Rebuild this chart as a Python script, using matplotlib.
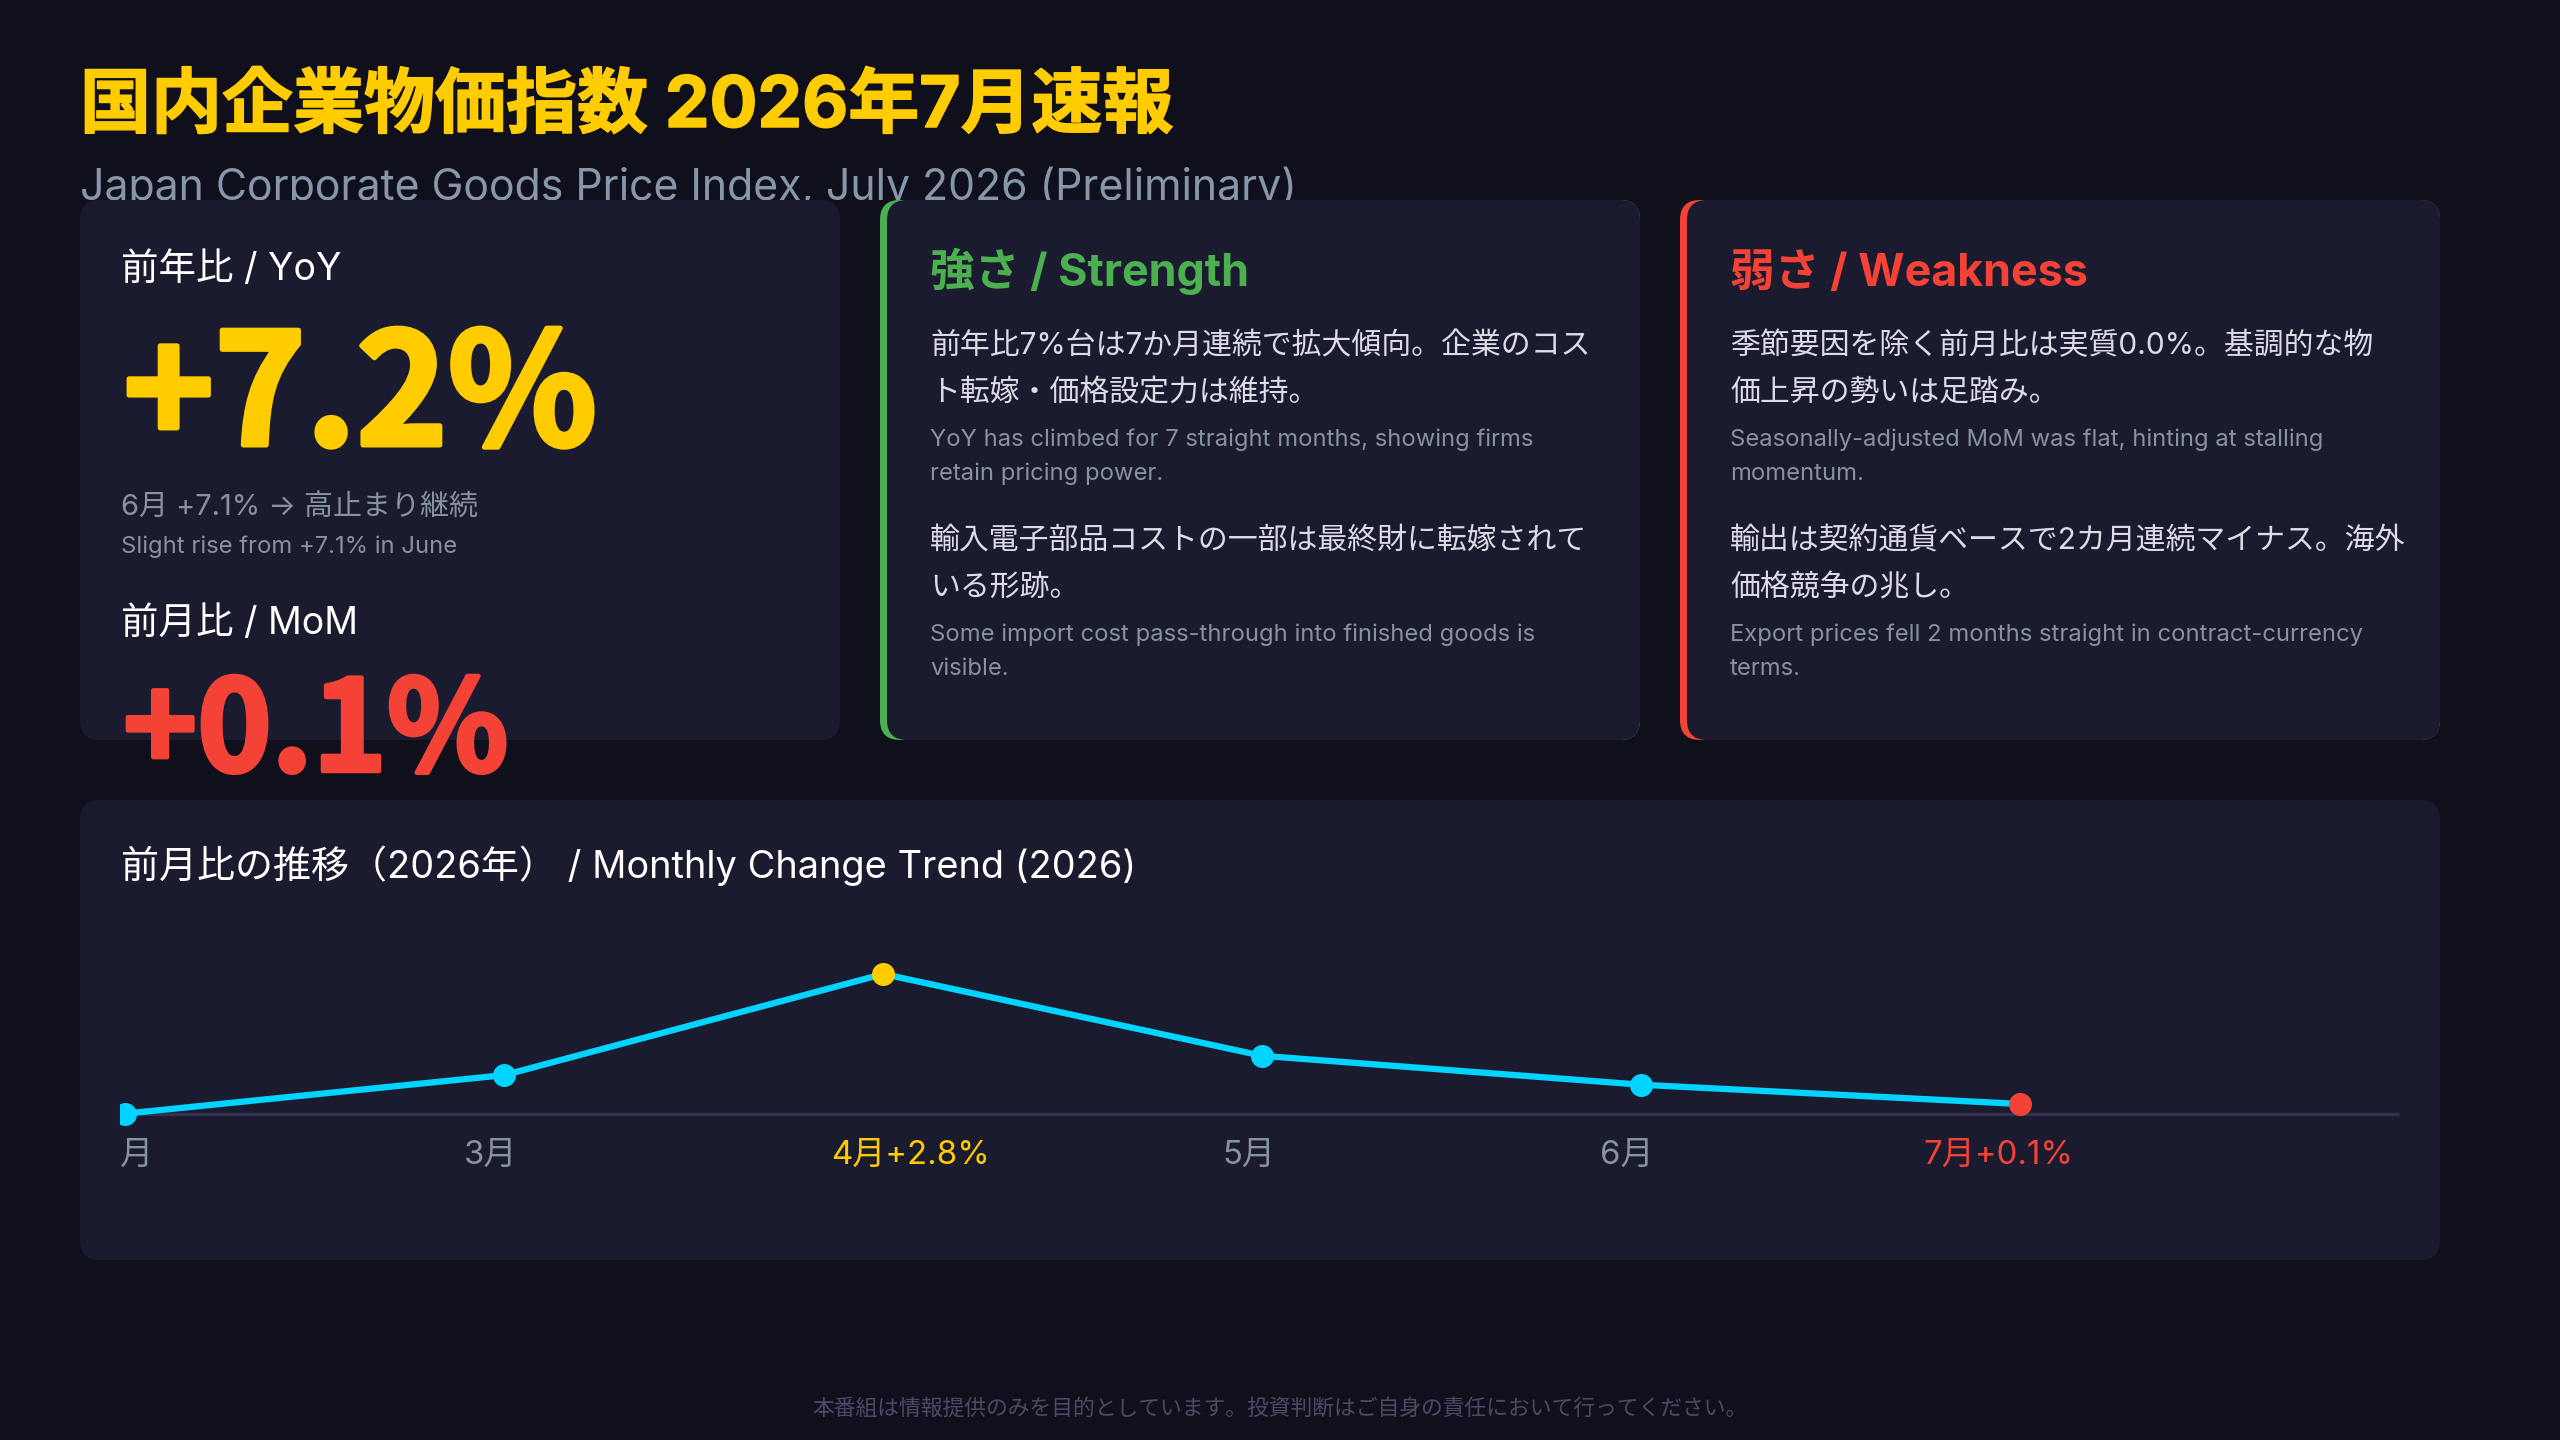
import matplotlib
matplotlib.use("Agg")
import matplotlib.pyplot as plt
from matplotlib.patches import FancyBboxPatch, Rectangle
from matplotlib.transforms import blended_transform_factory, offset_copy
import matplotlib.patheffects as pe

plt.rcParams['font.family'] = ['Inter', 'Noto Sans CJK JP', 'DejaVu Sans']
BIG_FONT = ['Noto Sans CJK JP', 'DejaVu Sans']

# ---------------- data ----------------
title_jp = "国内企業物価指数 2026年7月速報"
title_en = "Japan Corporate Goods Price Index, July 2026 (Preliminary)"

yoy_label = "前年比 / YoY"
yoy_value = 7.2
yoy_note_jp = "6月 +7.1% → 高止まり継続"
yoy_note_en = "Slight rise from +7.1% in June"
mom_label = "前月比 / MoM"
mom_value = 0.1

strength_title = "強さ / Strength"
strength_lines = [
    ("jp", ["前年比7%台は7か月連続で拡大傾向。企業のコス", "ト転嫁・価格設定力は維持。"]),
    ("en", ["YoY has climbed for 7 straight months, showing firms", "retain pricing power."]),
    ("jp", ["輸入電子部品コストの一部は最終財に転嫁されて", "いる形跡。"]),
    ("en", ["Some import cost pass-through into finished goods is", "visible."]),
]
weakness_title = "弱さ / Weakness"
weakness_lines = [
    ("jp", ["季節要因を除く前月比は実質0.0%。基調的な物", "価上昇の勢いは足踏み。"]),
    ("en", ["Seasonally-adjusted MoM was flat, hinting at stalling", "momentum."]),
    ("jp", ["輸出は契約通貨ベースで2カ月連続マイナス。海外", "価格競争の兆し。"]),
    ("en", ["Export prices fell 2 months straight in contract-currency", "terms."]),
]

trend_title = "前月比の推移（2026年） / Monthly Change Trend (2026)"
months = ["2月", "3月", "4月", "5月", "6月", "7月"]
mom_values = [-0.1, 0.7, 2.8, 1.1, 0.5, 0.1]

footer = "本番組は情報提供のみを目的としています。投資判断はご自身の責任において行ってください。"

# ---------------- style ----------------
BG = "#10101d"
CARD = "#1a1b2e"
YELLOW = "#ffcc00"
RED = "#f44336"
GREEN = "#4caf50"
CYAN = "#00d4ff"
GRAY = "#8792a4"
BODY = "#dcdce8"
WHITE = "#ffffff"
BASE = "#33314f"
FOOT = "#4a4a66"

PT = 0.72  # px -> pt at dpi 100

fig = plt.figure(figsize=(25.6, 14.4), dpi=100, facecolor=BG)
ax = fig.add_axes([0, 0, 1, 1])
ax.set_xlim(0, 2560)
ax.set_ylim(1440, 0)
ax.axis("off")
ax.set_facecolor(BG)


def card(x0, y0, x1, y1, border=None):
    r = 20
    if border:
        ax.add_patch(FancyBboxPatch((x0 + r, y0 + r), x1 - x0 - 2 * r, y1 - y0 - 2 * r,
                                    boxstyle=f"round,pad={r}", fc=border, ec="none", zorder=2))
        ax.add_patch(FancyBboxPatch((x0 + 7 + r, y0 + r), x1 - x0 - 7 - 2 * r, y1 - y0 - 2 * r,
                                    boxstyle=f"round,pad={r}", fc=CARD, ec="none", zorder=2.1))
    else:
        ax.add_patch(FancyBboxPatch((x0 + r, y0 + r), x1 - x0 - 2 * r, y1 - y0 - 2 * r,
                                    boxstyle=f"round,pad={r}", fc=CARD, ec="none", zorder=2))


def txt(x, y, s, px, color, weight="normal", ha="left", z=5, stroke=0, **kw):
    t = ax.text(x, y, s, fontsize=px * PT, color=color, fontweight=weight,
                ha=ha, va="baseline", zorder=z, **kw)
    if stroke:
        t.set_path_effects([pe.withStroke(linewidth=stroke * PT, foreground=color)])
    return t


# header
txt(80, 127, title_jp, 71, YELLOW, weight="bold", stroke=1.5)
sub = txt(80, 200, title_en, 42.8, "#8797aa", z=1)
clip = Rectangle((0, 0), 2560, 200, transform=ax.transData)
sub.set_clip_path(clip)

# cards
card(80, 200, 840, 740)
card(880, 200, 1640, 740, border=GREEN)
card(1680, 200, 2440, 740, border=RED)
card(80, 800, 2440, 1260)

# card 1
txt(121, 280, yoy_label, 37.5, WHITE)
txt(123, 445, f"+{yoy_value:.1f}%", 155, YELLOW, weight="bold", stroke=5, family=BIG_FONT)
txt(121, 515, yoy_note_jp, 29, GRAY)
txt(121, 553, yoy_note_en, 23.8, GRAY)
txt(121, 634, mom_label, 37.5, WHITE)
txt(123, 771, f"+{mom_value:.1f}%", 126, RED, weight="bold", stroke=4.5, family=BIG_FONT)


def insight(x, title, color, blocks):
    txt(x, 286, title, 44.8, color, weight="bold")
    y = 354
    for kind, lines in blocks:
        if kind == "jp":
            for i, ln in enumerate(lines):
                txt(x, y + i * 47, ln, 29.9, BODY)
            y += 92
        else:
            for i, ln in enumerate(lines):
                txt(x, y + i * 34, ln, 23.8, GRAY)
            y += 103


insight(930, strength_title, GREEN, strength_lines)
insight(1730, weakness_title, RED, weakness_lines)

# trend card
txt(121, 878, trend_title, 38, WHITE)

# chart axes: pixel box x 120..2440, y 930..1180
W, H = 2560, 1440
cax = fig.add_axes([120 / W, 1 - 1180 / H, (2440 - 120) / W, (1180 - 930) / H])
cax.axis("off")
cax.patch.set_alpha(0)
n = len(mom_values)
px_per_idx = 379.0
cax.set_xlim(-5.5 / px_per_idx, n + 41 / px_per_idx)
vmin, vmax = min(mom_values), max(mom_values)
rng = vmax - vmin
cax.set_ylim(vmin - 0.4755 * rng, vmax + 0.315 * rng)

xs = list(range(n))
cax.plot([0, n], [vmin, vmin], color=BASE, lw=3.3 * PT, solid_capstyle="butt", zorder=2)
cax.plot(xs, mom_values, color=CYAN, lw=6.3 * PT, zorder=3, solid_joinstyle="round")
imax = mom_values.index(vmax)
ilast = n - 1
for i, v in enumerate(mom_values):
    c = YELLOW if i == imax else (RED if i == ilast else CYAN)
    cax.plot([i], [v], "o", ms=23 * PT, color=c, mec="none", zorder=4)

label_offsets_px = [2, -14, 27, -13, -14, -22]
trans_y = blended_transform_factory(cax.transData, ax.transData)
for i, (m, v) in enumerate(zip(months, mom_values)):
    if i == imax or i == ilast:
        s = f"{m}{v:+.1f}%"
        c = YELLOW if i == imax else RED
    else:
        s = m
        c = GRAY
    tr = offset_copy(trans_y, fig=fig, x=label_offsets_px[i], y=0, units="dots")
    cax.text(i, 1164, s, transform=tr, fontsize=33 * PT, color=c, ha="center",
             va="baseline", clip_on=True, zorder=5)

# footer
txt(1280, 1415, footer, 21.8, FOOT, ha="center")

fig.savefig("out.png", dpi=100, facecolor=BG)
